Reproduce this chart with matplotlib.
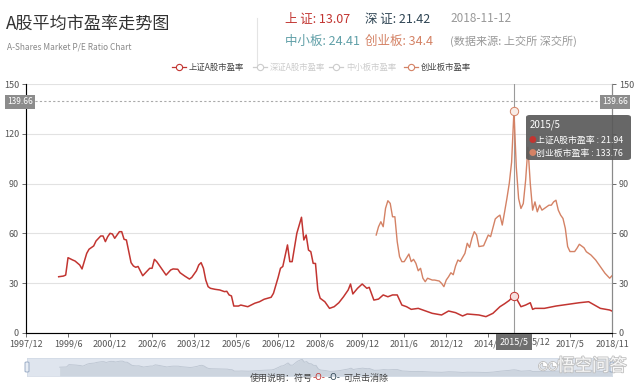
import matplotlib
matplotlib.use("Agg")
import matplotlib.pyplot as plt
from matplotlib.lines import Line2D
from matplotlib.patches import FancyBboxPatch
import matplotlib.patheffects as pe

plt.rcParams['font.family'] = ['Noto Sans CJK SC', 'DejaVu Sans']

W, H = 640, 386

# Shanghai A-share P/E (red)
sh_months = ["1999/2", "1999/4", "1999/5", "1999/6", "1999/8", "1999/9", "1999/11", "1999/12",
             "2000/2", "2000/3", "2000/5", "2000/6", "2000/8", "2000/9", "2000/10", "2000/11",
             "2000/12", "2001/1", "2001/2", "2001/4", "2001/5", "2001/6", "2001/7", "2001/9",
             "2001/10", "2001/11", "2001/12", "2002/2", "2002/3", "2002/5", "2002/6", "2002/7",
             "2002/8", "2002/10", "2002/12", "2003/2", "2003/3", "2003/5", "2003/6", "2003/8",
             "2003/10", "2003/11", "2004/1", "2004/2", "2004/3", "2004/4", "2004/5", "2004/6",
             "2004/7", "2004/9", "2004/11", "2005/1", "2005/2", "2005/3", "2005/4", "2005/5",
             "2005/7", "2005/8", "2005/11", "2006/2", "2006/4", "2006/6", "2006/9", "2006/10",
             "2006/12", "2007/1", "2007/2", "2007/4", "2007/5", "2007/6", "2007/8", "2007/10",
             "2007/11", "2007/12", "2008/1", "2008/2", "2008/3", "2008/4", "2008/5", "2008/6",
             "2008/8", "2008/10", "2008/12", "2009/2", "2009/4", "2009/6", "2009/7", "2009/8",
             "2009/10", "2009/12", "2010/2", "2010/3", "2010/5", "2010/7", "2010/9", "2010/11",
             "2011/1", "2011/3", "2011/5", "2011/7", "2011/9", "2011/12", "2012/2", "2012/6",
             "2012/10", "2013/1", "2013/4", "2013/7", "2013/9", "2014/2", "2014/5", "2014/8",
             "2014/11", "2015/1", "2015/3", "2015/4", "2015/5", "2015/6", "2015/8", "2015/10",
             "2015/12", "2016/1", "2016/2", "2016/6", "2016/11", "2017/4", "2017/9", "2018/1",
             "2018/3", "2018/6", "2018/10", "2018/11"]
sh_pe = [33.8, 34.2, 34.8, 45.3, 43.9, 43.3, 40.9, 38.5,
         47.9, 50.4, 52.4, 55.4, 58.4, 58.4, 55.0, 58.0,
         60.0, 59.6, 57.0, 61.0, 61.0, 56.4, 56.0, 42.3,
         40.3, 39.5, 40.0, 34.4, 35.9, 38.9, 38.9, 44.3,
         42.9, 38.9, 34.8, 37.9, 38.5, 38.3, 36.2, 34.2,
         32.4, 33.4, 37.4, 40.9, 42.3, 38.9, 31.8, 27.8,
         26.8, 26.2, 25.8, 24.8, 25.0, 22.8, 22.2, 16.1,
         16.1, 16.7, 15.7, 17.8, 18.7, 20.2, 21.4, 23.8,
         33.4, 38.9, 40.0, 53.0, 42.9, 42.9, 60.0, 69.7,
         56.0, 59.0, 49.9, 48.9, 41.9, 41.8, 25.8, 20.8,
         18.7, 14.7, 15.7, 18.1, 21.7, 25.8, 29.4, 23.4,
         26.8, 29.4, 26.8, 27.4, 19.7, 20.3, 22.8, 21.7,
         22.8, 22.8, 16.7, 15.7, 14.1, 14.7, 13.7, 11.7,
         10.7, 13.1, 12.1, 10.1, 11.3, 10.7, 9.7, 11.7,
         15.7, 17.5, 19.5, 21.0, 21.94, 20.8, 15.7, 16.7,
         18.1, 14.1, 14.7, 14.7, 16.1, 17.1, 18.1, 18.7,
         17.1, 14.7, 13.7, 13.07]

# ChiNext P/E (salmon)
cy_months = ["2010/6", "2010/7", "2010/8", "2010/9", "2010/10", "2010/11", "2010/12", "2011/1",
             "2011/2", "2011/3", "2011/4", "2011/5", "2011/6", "2011/8", "2011/9", "2011/10",
             "2011/11", "2011/12", "2012/1", "2012/2", "2012/3", "2012/4", "2012/6", "2012/7",
             "2012/9", "2012/10", "2012/11", "2012/12", "2013/1", "2013/2", "2013/3", "2013/4",
             "2013/5", "2013/6", "2013/8", "2013/9", "2013/10", "2013/11", "2013/12", "2014/1",
             "2014/2", "2014/4", "2014/6", "2014/7", "2014/9", "2014/10", "2014/11", "2014/12",
             "2015/1", "2015/2", "2015/3", "2015/4", "2015/5", "2015/6", "2015/7", "2015/8",
             "2015/9", "2015/10", "2015/11", "2015/12", "2016/1", "2016/2", "2016/3", "2016/4",
             "2016/5", "2016/6", "2016/8", "2016/9", "2016/10", "2016/11", "2016/12", "2017/1",
             "2017/2", "2017/3", "2017/4", "2017/5", "2017/7", "2017/8", "2017/9", "2017/11",
             "2017/12", "2018/2", "2018/4", "2018/6", "2018/8", "2018/10", "2018/11"]
cy_pe = [59.0, 64.0, 67.0, 64.0, 75.1, 79.7, 78.1, 70.0,
         70.0, 55.0, 45.9, 42.9, 42.9, 47.5, 42.9, 44.3,
         41.9, 37.4, 38.9, 32.9, 30.8, 32.9, 31.8, 31.8,
         31.2, 29.8, 27.8, 31.8, 33.8, 36.2, 35.0, 40.3,
         43.9, 43.0, 47.9, 54.0, 51.5, 57.0, 61.0, 59.0,
         52.0, 52.5, 59.0, 58.0, 68.7, 70.0, 71.0, 65.0,
         73.0, 81.2, 90.2, 103.0, 133.76, 100.0, 81.0, 75.0,
         78.0, 92.0, 112.0, 90.0, 74.0, 79.0, 73.0, 77.0,
         74.0, 75.0, 77.0, 77.0, 79.0, 80.0, 74.0, 71.0,
         69.0, 63.0, 52.0, 49.0, 49.0, 51.0, 53.4, 51.3,
         48.9, 46.9, 43.9, 39.9, 35.9, 32.9, 34.4]

x_labels = ["1997/12", "1999/6", "2000/12", "2002/6", "2003/12", "2005/6", "2006/12", "2008/6",
            "2009/12", "2011/6", "2012/12", "2014/6", "2015/12", "2017/5", "2018/11"]
y_ticks = [0, 30, 60, 90, 120, 150]
max_pe = 139.66
hover_month = "2015/5"
hover_sh = 21.94
hover_cy = 133.76

legend_names = ["上证A股市盈率", "深证A股市盈率", "中小板市盈率", "创业板市盈率"]
latest = {"上 证": "13.07", "深 证": "21.42", "中小板": "24.41", "创业板": "34.4"}

RED = "#c23531"
DARK = "#2f4554"
TEAL = "#61a0a8"
SALMON = "#d48265"


def month_pos(s):
    y, m = s.split("/")
    return (int(y) - 1997) * 12 + int(m) - 12


def fx(x):
    return x / W


def fy(y):
    return 1 - y / H


fig = plt.figure(figsize=(6.4, 3.86), dpi=100)

# main plot area
ax = fig.add_axes([fx(26), fy(332.7), (612 - 26) / W, (332.7 - 84.3) / H])
ax.set_xlim(0, month_pos("2018/11"))
ax.set_ylim(0, 150)

sh_x = [month_pos(m) for m in sh_months]
cy_x = [month_pos(m) for m in cy_months]
ax.plot(sh_x, sh_pe, color=RED, lw=1.1, zorder=4)
ax.plot(cy_x, cy_pe, color=SALMON, lw=1.0, zorder=4)

ax.set_yticks(y_ticks)
ax.yaxis.grid(True, color="#e2e2e2", lw=0.8)
ax.set_axisbelow(True)
ax.set_xticks([month_pos(s) for s in x_labels])
# 2015/12 sits partly under the pointer label, drawn separately below
ax.set_xticklabels(["" if s == "2015/12" else s for s in x_labels])
ax.tick_params(axis="x", labelsize=6.5, colors="#555555", length=3, width=0.6, pad=2)
ax.tick_params(axis="y", labelsize=6.5, colors="#555555", length=3, width=0.6, pad=2)
ax.spines["top"].set_visible(False)
for side in ["left", "right", "bottom"]:
    ax.spines[side].set_color("#8a8a8a")
    ax.spines[side].set_linewidth(0.8)

ax2 = ax.twinx()
ax2.set_ylim(0, 150)
ax2.set_yticks(y_ticks)
# the "120" on the right sits under the tooltip in the reference
ax2.set_yticklabels(["" if t == 120 else str(t) for t in y_ticks])
ax2.tick_params(axis="y", labelsize=6.5, colors="#555555", length=3, width=0.6, pad=2)
ax2.spines["top"].set_visible(False)
ax2.spines["right"].set_color("#8a8a8a")
ax2.spines["right"].set_linewidth(0.8)

# max mark line
ax.axhline(max_pe, color="#aaaaaa", lw=0.8, ls=(0, (2, 2)), zorder=2)
for xx in [20, 615]:
    fig.text(fx(xx), fy(102), f"{max_pe:.2f}", ha="center", va="center", fontsize=6,
             color="white", bbox=dict(boxstyle="square,pad=0.3", fc="#8c8c8c", ec="none"))

# axis pointer + hover markers
hx = month_pos(hover_month)
ax.axvline(hx, color="#9a9a9a", lw=0.8, zorder=3)
ax.plot([hx], [hover_sh], marker="o", ms=6, mfc="#f6dede", mec=RED, mew=0.7, zorder=6)
ax.plot([hx], [hover_cy], marker="o", ms=6, mfc="#f8ece6", mec=SALMON, mew=0.7, zorder=6)

fig.text(fx(541), fy(342), "5/12", ha="center", va="center", fontsize=6.5, color="#555555")
fig.text(fx(514), fy(342), hover_month, ha="center", va="center", fontsize=6.5, color="white",
         zorder=10, bbox=dict(boxstyle="square,pad=0.4", fc="#6e6e6e", ec="none"))

# tooltip
tip = FancyBboxPatch((fx(526), fy(160)), fx(631) - fx(526), fy(115) - fy(160),
                     boxstyle="round,pad=0,rounding_size=0.006", fc="#5a5a5a", ec="none",
                     alpha=0.92, transform=fig.transFigure, zorder=20)
fig.add_artist(tip)
fig.text(fx(530), fy(125), hover_month, fontsize=7, color="white", va="center", zorder=21)
fig.text(fx(528.5), fy(140), "●", fontsize=5.5, color=RED, va="center", zorder=21)
fig.text(fx(536), fy(140), f"{legend_names[0]} : {hover_sh}", fontsize=6.4, color="white",
         va="center", zorder=21)
fig.text(fx(528.5), fy(153), "●", fontsize=5.5, color=SALMON, va="center", zorder=21)
fig.text(fx(536), fy(153), f"{legend_names[3]} : {hover_cy}", fontsize=6.4, color="white",
         va="center", zorder=21)

# title block
fig.text(fx(6), fy(24), "A股平均市盈率走势图", fontsize=12.3, color="#333333", va="center")
fig.text(fx(7), fy(47), "A-Shares Market P/E Ratio Chart", fontsize=6, color="#888888",
         va="center")
fig.add_artist(Line2D([fx(257), fx(257)], [fy(18), fy(66)], color="#e4e4e4", lw=0.8))

hdr = [("上 证", RED, 285, 19), ("深 证", DARK, 365, 19),
       ("中小板", TEAL, 285, 41), ("创业板", SALMON, 365, 41)]
for name, col, x0, y0 in hdr:
    fig.text(fx(x0), fy(y0), f"{name}: {latest[name]}", fontsize=9, color=col, va="center")
fig.text(fx(450), fy(19), "2018-11-12", fontsize=8.5, color="#999999", va="center")
fig.text(fx(450), fy(41), "(数据来源: 上交所 深交所)", fontsize=8, color="#999999", va="center")

# legend
leg_items = [(172, RED, legend_names[0], "#444444"), (253, "#cccccc", legend_names[1], "#cccccc"),
             (329, "#cccccc", legend_names[2], "#cccccc"), (404, SALMON, legend_names[3], "#444444")]
for x0, col, name, tcol in leg_items:
    fig.add_artist(Line2D([fx(x0), fx(x0 + 14)], [fy(67), fy(67)], color=col, lw=0.9))
    fig.add_artist(Line2D([fx(x0 + 7)], [fy(67)], marker="o", ms=4.5, mfc="white", mec=col,
                          mew=0.8))
    fig.text(fx(x0 + 17), fy(67), name, fontsize=6, color=tcol, va="center")

# data zoom slider
axs = fig.add_axes([fx(27), fy(376), (612 - 27) / W, 18 / H])
axs.set_xlim(0, month_pos("2018/11"))
axs.set_ylim(-6, 75)
axs.axvspan(0, month_pos("2018/11"), color="#dfe5ee", zorder=0)
axs.fill_between(sh_x, sh_pe, -6, color="#cdd5df", lw=0, zorder=1)
axs.plot(sh_x, sh_pe, color="#bcc5d1", lw=0.6, zorder=2)
axs.set_xticks([])
axs.set_yticks([])
for sp in axs.spines.values():
    sp.set_color("#d3dbe6")
    sp.set_linewidth(0.6)
for hxp in [27, 612]:
    fig.add_artist(FancyBboxPatch((fx(hxp - 2), fy(372)), 4 / W, 10 / H,
                                  boxstyle="round,pad=0,rounding_size=0.002", fc="#e8edf4",
                                  ec="#8fa3bf", lw=0.6, transform=fig.transFigure, zorder=5))

# watermark
fig.text(fx(592), fy(366), "悟空问答", fontsize=12.5, color="white", ha="center", va="center",
         alpha=0.9, zorder=30,
         path_effects=[pe.withStroke(linewidth=1.3, foreground="#bdbdbd")])
fig.text(fx(548), fy(366), "◔◔", fontsize=8, color="white", ha="center", va="center",
         zorder=30, path_effects=[pe.withStroke(linewidth=1.1, foreground="#bdbdbd")])

# usage note
fig.text(fx(250), fy(378), "使用说明：符号", fontsize=6.5, color="#444444", va="center")
fig.text(fx(313), fy(378), "-O-", fontsize=6.5, color=RED, va="center")
fig.text(fx(328), fy(378), "-O-", fontsize=6.5, color=DARK, va="center")
fig.text(fx(343), fy(378), "可点击消除", fontsize=6.5, color="#444444", va="center")

fig.savefig("out.png", dpi=100)
